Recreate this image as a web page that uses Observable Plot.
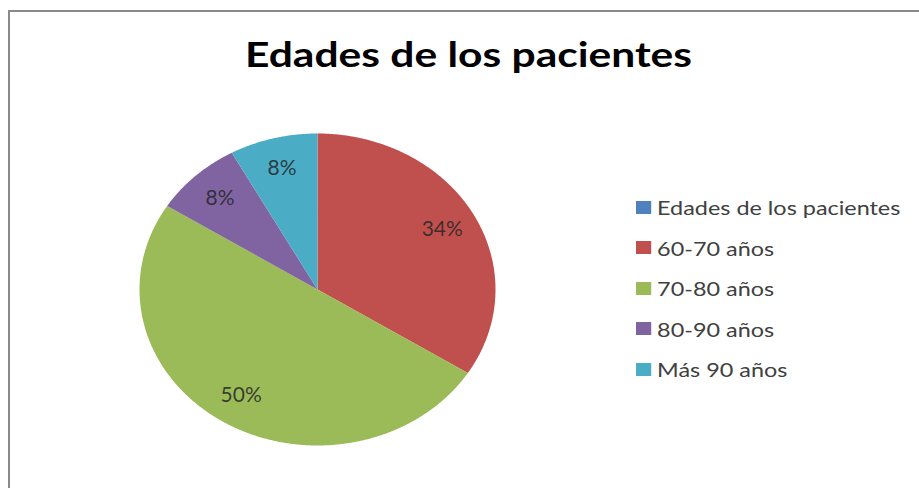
<!DOCTYPE html>
<html>
<head>
<meta charset="utf-8">
<script src="https://cdn.jsdelivr.net/npm/d3@7"></script>
<script src="https://cdn.jsdelivr.net/npm/@observablehq/plot@0.6"></script>
<style>
  html, body { margin: 0; padding: 0; background: #fff; }
  body { width: 919px; height: 488px; overflow: hidden; position: relative; font-family: Lato, "Open Sans", sans-serif; }
  #frame { position: absolute; left: 8px; top: 10px; width: 1200px; height: 1000px; border-left: 2px solid #8a8a8a; border-top: 2px solid #8a8a8a; box-sizing: border-box; }
  #title { position: absolute; left: 0; top: 33px; width: 937px; text-align: center; font: bold 35px Lato, sans-serif; color: #000; line-height: 40px; transform: scaleX(1.215); transform-origin: 468.5px 0; white-space: nowrap; }
  #chart { position: absolute; left: 0; top: 100px; }
  #legend { position: absolute; left: 636px; top: 187px; transform: scaleX(1.17); transform-origin: 0 0; }
  #legend div.lg-swatch { height: 40.5px !important; padding: 0 !important; margin: 0 !important; align-items: center; }
  #legend div.lg-swatch svg { margin-right: 5px !important; }
</style>
</head>
<body>
<div id="frame"></div>
<div id="title"></div>
<div id="chart"></div>
<div id="legend"></div>
<script>
const chartTitle = "Edades de los pacientes";
const categories = ["Edades de los pacientes", "60-70 años", "70-80 años", "80-90 años", "Más 90 años"];
const values = [0, 34, 50, 8, 8];
const palette = ["#4F81BD", "#C0504D", "#9BBB59", "#8064A2", "#4BACC6"];

const rows = categories.map((cat, i) => ({cat, value: values[i]}));
const arcs = d3.pie().sort(null).value(d => d.value).startAngle(0).endAngle(2 * Math.PI)(rows);

const slicePoints = [];
const labels = [];
for (const a of arcs) {
  if (a.data.value <= 0) continue;
  const n = Math.max(2, Math.ceil((a.endAngle - a.startAngle) / 0.005));
  slicePoints.push({cat: a.data.cat, x: 0, y: 0});
  for (let k = 0; k <= n; k++) {
    const t = a.startAngle + (a.endAngle - a.startAngle) * k / n;
    slicePoints.push({cat: a.data.cat, x: Math.sin(t), y: Math.cos(t)});
  }
  slicePoints.push({cat: a.data.cat, x: 0, y: 0});
  const mid = (a.startAngle + a.endAngle) / 2;
  labels.push({cat: a.data.cat, x: 0.8 * Math.sin(mid), y: 0.8 * Math.cos(mid), text: a.data.value + "%"});
}

document.getElementById("title").textContent = chartTitle;

const plot = Plot.plot({
  width: 919,
  height: 388,
  x: {domain: [-1, 1], range: [139, 495], axis: null},
  y: {domain: [-1, 1], range: [345, 33], axis: null},
  color: {type: "ordinal", domain: categories, range: palette},
  style: {fontFamily: "Lato, sans-serif", background: "transparent"},
  marks: [
    Plot.line(slicePoints, {x: "x", y: "y", z: "cat", fill: "cat", stroke: null, curve: "linear"}),
    Plot.text(labels, {x: "x", y: "y", text: "text", fontSize: 21, fill: "#262626", fillOpacity: 0.85})
  ]
});
document.getElementById("chart").appendChild(plot);

const legend = plot.legend("color", {
  legend: "swatches",
  columns: 1,
  swatchSize: 13,
  className: "lg",
  style: {fontSize: "20px", fontFamily: "Lato, sans-serif", color: "#404040"}
});
document.getElementById("legend").appendChild(legend);
</script>
</body>
</html>
